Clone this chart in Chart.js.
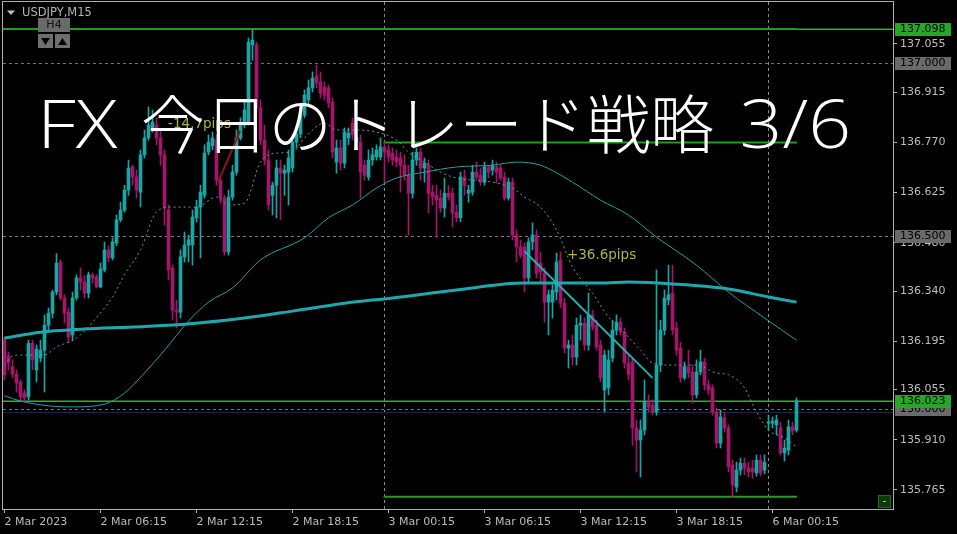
<!DOCTYPE html>
<html><head><meta charset="utf-8">
<script src="https://cdn.jsdelivr.net/npm/chart.js@4"></script>
<style>html,body{margin:0;padding:0;background:#000;}canvas{display:block;}</style>
</head><body>
<canvas id="c" width="957" height="534"></canvas>
<script>
// ---- data (USDJPY M15, bar 0 = 2 Mar 00:15) ----
const opens = [
136.198,136.152,136.121,136.100,136.077,136.045,136.034,136.189,136.112,136.146,
136.169,136.241,136.276,136.337,136.424,136.320,136.279,136.213,136.320,136.378,
136.366,136.334,136.387,136.381,136.352,136.401,136.459,136.436,136.479,136.546,
136.574,136.632,136.699,136.670,136.626,136.734,136.783,136.812,136.820,136.783,
136.734,136.574,136.407,136.285,136.279,136.439,136.473,136.473,136.552,136.583,
136.617,136.742,136.760,136.777,136.661,136.609,136.453,136.612,136.684,136.783,
136.820,136.829,137.052,137.052,136.870,136.777,136.719,136.617,136.646,136.696,
136.681,136.684,136.696,136.771,136.794,136.849,136.893,136.928,136.962,136.945,
136.930,136.928,136.887,136.713,136.754,136.710,136.783,136.826,136.771,136.771,
136.704,136.670,136.719,136.728,136.728,136.757,136.748,136.739,136.728,136.725,
136.704,136.675,136.623,136.719,136.742,136.696,136.704,136.626,136.617,136.609,
136.580,136.623,136.623,136.568,136.552,136.670,136.623,136.626,136.684,136.675,
136.655,136.699,136.690,136.699,136.696,136.670,136.609,136.655,136.502,136.468,
136.468,136.378,136.482,136.502,136.421,136.392,136.308,136.308,136.337,136.430,
136.305,136.175,136.184,136.149,136.241,136.247,136.184,136.271,136.241,136.184,
136.054,136.060,136.146,136.227,136.250,136.221,136.132,136.135,135.944,135.909,
135.938,136.019,136.010,135.990,136.126,136.227,136.314,136.334,136.233,136.175,
136.089,136.121,136.106,136.040,136.106,136.135,136.069,136.060,135.990,135.900,
135.973,135.944,135.837,135.773,135.822,135.842,135.828,135.828,135.814,135.851,
135.822,135.958,135.958,135.953,135.944,135.872,135.880,135.947,135.938];
const highs = [
136.207,136.163,136.141,136.112,136.083,136.054,136.198,136.198,136.184,136.198,
136.271,136.291,136.343,136.448,136.430,136.329,136.291,136.337,136.387,136.407,
136.384,136.395,136.392,136.387,136.421,136.482,136.471,136.494,136.560,136.597,
136.646,136.719,136.704,136.690,136.748,136.806,136.873,136.864,136.841,136.806,
136.748,136.589,136.415,136.314,136.459,136.511,136.502,136.574,136.603,136.646,
136.763,136.792,136.800,136.792,136.675,136.617,136.632,136.704,136.806,136.841,
136.893,137.072,137.097,137.060,136.893,136.820,136.748,136.655,136.719,136.719,
136.704,136.748,136.792,136.820,136.870,136.922,136.951,136.974,136.994,136.974,
136.945,136.936,136.899,136.777,136.777,136.812,136.812,136.841,136.806,136.792,
136.719,136.748,136.754,136.763,136.783,136.771,136.763,136.754,136.748,136.742,
136.734,136.704,136.742,136.754,136.754,136.725,136.719,136.646,136.646,136.632,
136.667,136.646,136.638,136.589,136.684,136.690,136.646,136.704,136.713,136.696,
136.713,136.704,136.719,136.713,136.704,136.684,136.667,136.667,136.517,136.488,
136.479,136.494,136.537,136.517,136.453,136.407,136.343,136.358,136.450,136.453,
136.320,136.198,136.213,136.262,136.271,136.262,136.334,136.285,136.256,136.198,
136.169,136.169,136.256,136.271,136.262,136.233,136.155,136.146,135.967,135.967,
136.083,136.040,136.025,136.401,136.256,136.343,136.415,136.415,136.250,136.192,
136.135,136.169,136.126,136.141,136.169,136.146,136.083,136.069,136.001,135.996,
135.990,135.953,135.851,135.845,135.857,135.857,135.845,135.851,135.866,135.866,
135.866,135.981,135.976,135.981,135.961,135.909,135.967,135.961,136.031];
const lows = [
136.083,136.112,136.089,136.048,136.025,136.019,136.025,136.112,136.077,136.135,
136.048,136.227,136.262,136.329,136.314,136.247,136.192,136.198,136.314,136.343,
136.320,136.320,136.363,136.349,136.349,136.395,136.424,136.430,136.471,136.540,
136.568,136.617,136.646,136.609,136.583,136.725,136.777,136.800,136.763,136.704,
136.531,136.372,136.256,136.233,136.262,136.424,136.424,136.415,136.540,136.436,
136.609,136.734,136.748,136.646,136.594,136.444,136.444,136.603,136.675,136.777,
136.812,136.820,137.008,136.858,136.763,136.704,136.574,136.560,136.552,136.546,
136.617,136.589,136.684,136.754,136.783,136.841,136.879,136.916,136.928,136.899,
136.893,136.870,136.725,136.681,136.690,136.696,136.763,136.777,136.748,136.609,
136.661,136.661,136.704,136.719,136.719,136.655,136.713,136.704,136.699,136.626,
136.661,136.502,136.609,136.704,136.661,136.655,136.566,136.589,136.496,136.568,
136.554,136.603,136.525,136.540,136.540,136.617,136.597,136.617,136.661,136.646,
136.646,136.667,136.675,136.652,136.661,136.603,136.603,136.488,136.424,136.436,
136.337,136.366,136.459,136.378,136.366,136.250,136.213,136.262,136.314,136.291,
136.161,136.117,136.126,136.126,136.198,136.169,136.169,136.227,136.169,136.077,
135.990,136.040,136.135,136.213,136.213,136.117,136.083,135.894,135.817,135.802,
135.924,135.990,135.981,135.981,136.106,136.213,136.300,136.213,136.155,136.077,
136.083,136.089,136.016,136.031,136.098,136.054,136.040,135.981,135.886,135.886,
135.932,135.817,135.744,135.759,135.808,135.808,135.802,135.799,135.805,135.805,
135.811,135.938,135.944,135.924,135.866,135.848,135.866,135.924,135.932];
const closes = [
136.098,136.132,136.100,136.074,136.034,136.031,136.189,136.141,136.172,136.169,
136.241,136.276,136.337,136.421,136.320,136.276,136.207,136.320,136.378,136.366,
136.334,136.387,136.378,136.352,136.404,136.459,136.436,136.482,136.546,136.574,
136.632,136.696,136.670,136.632,136.734,136.783,136.820,136.829,136.783,136.734,
136.580,136.401,136.285,136.279,136.439,136.473,136.488,136.554,136.583,136.626,
136.739,136.771,136.783,136.661,136.609,136.453,136.612,136.684,136.783,136.820,
136.864,137.060,137.066,136.870,136.777,136.719,136.589,136.646,136.696,136.681,
136.690,136.725,136.771,136.794,136.849,136.907,136.928,136.956,136.942,136.913,
136.907,136.884,136.742,136.754,136.710,136.800,136.797,136.792,136.783,136.684,
136.675,136.719,136.734,136.748,136.757,136.742,136.728,136.719,136.713,136.704,
136.675,136.623,136.719,136.742,136.696,136.710,136.623,136.612,136.603,136.580,
136.623,136.612,136.566,136.552,136.670,136.646,136.632,136.684,136.670,136.655,
136.699,136.684,136.704,136.684,136.667,136.609,136.655,136.502,136.468,136.444,
136.378,136.482,136.502,136.392,136.395,136.308,136.329,136.343,136.424,136.305,
136.175,136.184,136.149,136.241,136.247,136.184,136.271,136.236,136.178,136.089,
136.155,136.141,136.227,136.250,136.221,136.132,136.098,135.944,135.909,135.938,
136.019,136.005,135.990,136.126,136.227,136.320,136.329,136.227,136.169,136.089,
136.121,136.103,136.040,136.106,136.135,136.069,136.054,135.990,135.900,135.976,
135.944,135.831,135.779,135.822,135.842,135.828,135.817,135.817,135.851,135.814,
135.845,135.961,135.964,135.967,135.872,135.886,135.947,135.935,136.023];

// moving averages read at selected bars
const maSlowIdx = [0,9,20,32,45,60,72,85,97,113,130,149,156,168,181,191,198];
const maSlowVal = [136.204,136.221,136.230,136.236,136.244,136.262,136.282,136.305,136.320,136.343,136.363,136.363,136.366,136.360,136.346,136.323,136.308];
const maMidIdx = [0,4,11,17,25,30,35,40,46,51,57,64,75,81,87,93,98,105,113,122,128,134,142,149,156,163,173,181,190,198];
const maMidVal = [136.037,136.022,136.008,136.005,136.013,136.045,136.103,136.169,136.253,136.308,136.349,136.430,136.494,136.552,136.589,136.638,136.667,136.684,136.699,136.704,136.713,136.704,136.655,136.603,136.560,136.496,136.415,136.337,136.262,136.198];
const maFastIdx = [0,2,4,10,13,18,22,25,27,30,34,38,42,48,53,56,60,64,68,72,75,80,83,88,93,98,101,105,109,113,122,127,130,134,138,142,147,151,155,159,162,166,173,178,181,185,188,191,195,198];
const maFastVal = [136.126,136.152,136.155,136.155,136.178,136.204,136.250,136.291,136.323,136.387,136.459,136.569,136.583,136.583,136.612,136.589,136.594,136.713,136.739,136.742,136.783,136.826,136.806,136.806,136.800,136.777,136.742,136.713,136.684,136.667,136.655,136.638,136.612,136.583,136.517,136.410,136.334,136.265,136.219,136.169,136.132,136.126,136.126,136.103,136.098,136.060,135.990,135.938,135.915,135.889];

// drawn objects
const trendUpIdx = [130, 162];        const trendUpVal = [136.455, 136.089];  // +36.6pips
const trendDnIdx = [53.4, 58.9];      const trendDnVal = [136.655, 136.803];  // -14.7pips
const greenLevels = [137.098, 136.770, 135.745];
const greenFrom   = [-0.4, 94.75, 94.75];
const greenTo     = [198.1, 198.1, 198.1];
const roundLevels = [137.000, 136.500, 136.000];
const bidPrice = 136.023;
const daySepIdx = [94.75, 190.75];

const yTicks = [137.055,136.915,136.770,136.625,136.480,136.340,136.195,136.055,135.910,135.765];
const xTickIdx = [0,24,48,72,96,120,144,168,192];
const xTickLabels = ['2 Mar 2023','2 Mar 06:15','2 Mar 12:15','2 Mar 18:15','3 Mar 00:15','3 Mar 06:15','3 Mar 12:15','3 Mar 18:15','6 Mar 00:15'];

const titleParts = ['FX', '今日のトレード戦略', '3/6'];
const symbolText = 'USDJPY,M15';

// ---- config ----
const X_MIN = -0.375, X_MAX = 222.125;
const Y_MIN = 135.7096, Y_MAX = 137.1762;
const BULL = '#1ba6a6', BEAR = '#a3176a';
const AXIS_TXT = '#bcbcbc', FRAME = '#b0b0b0';
const idx = opens.map((_, i) => i);
const candleColors = idx.map(i => closes[i] >= opens[i] ? BULL : BEAR);
const pts = (xs, ys) => xs.map((x, k) => ({x: x, y: ys[k]}));

const datasets = [
  {type:'bar', data: idx.map(i => ({x:i, y:[lows[i], highs[i]]})), backgroundColor: candleColors,
   barThickness:1, grouped:false, order:6},
  {type:'bar', data: idx.map(i => ({x:i, y:[opens[i], closes[i]]})), backgroundColor: candleColors,
   barThickness:3, minBarLength:1, grouped:false, order:5},
  {type:'line', data: pts(maFastIdx, maFastVal), borderColor:'#5a9ea0', borderWidth:1, borderDash:[2,3],
   pointRadius:0, cubicInterpolationMode:'monotone', order:4},
  {type:'line', data: pts(maMidIdx, maMidVal), borderColor:'#2a9ea2', borderWidth:1,
   pointRadius:0, cubicInterpolationMode:'monotone', order:3},
  {type:'line', data: pts(maSlowIdx, maSlowVal), borderColor:'#1ea8ae', borderWidth:3,
   pointRadius:0, cubicInterpolationMode:'monotone', order:2},
  {type:'line', data: pts(trendUpIdx, trendUpVal), borderColor:'#22b0b4', borderWidth:2, pointRadius:0, order:1},
  {type:'line', data: pts(trendDnIdx, trendDnVal), borderColor:'#8a1616', borderWidth:2, pointRadius:0, order:1},
];
greenLevels.forEach((v, k) => datasets.push({type:'line', data:[{x:greenFrom[k], y:v},{x:greenTo[k], y:v}],
  borderColor:'#1f9e1f', borderWidth:2, pointRadius:0, order:7}));

function fitText(ctx, text, font, left, right, baseline) {
  ctx.font = font;
  const m = ctx.measureText(text);
  const ink = m.actualBoundingBoxLeft + m.actualBoundingBoxRight;
  ctx.save();
  ctx.translate(left, baseline);
  ctx.scale((right - left) / ink, 1);
  ctx.fillText(text, m.actualBoundingBoxLeft, 0);
  ctx.restore();
}

const overlay = {
  id:'mt4',
  beforeDatasetsDraw(chart) {
    const {ctx, chartArea:a, scales:{x, y}} = chart;
    ctx.save();
    ctx.beginPath(); ctx.rect(a.left, a.top, a.right - a.left, a.bottom - a.top); ctx.clip();
    ctx.lineWidth = 1;
    ctx.strokeStyle = '#777'; ctx.setLineDash([3,3]);
    roundLevels.forEach(v => { const py = Math.round(y.getPixelForValue(v)) + 0.5;
      ctx.beginPath(); ctx.moveTo(a.left, py); ctx.lineTo(a.right, py); ctx.stroke(); });
    ctx.strokeStyle = '#8a8a8a'; ctx.setLineDash([3,3]);
    daySepIdx.forEach(v => { const px = Math.round(x.getPixelForValue(v)) + 0.5;
      ctx.beginPath(); ctx.moveTo(px, a.top); ctx.lineTo(px, a.bottom); ctx.stroke(); });
    ctx.setLineDash([]);
    ctx.strokeStyle = '#1b2740';
    const pyAsk = Math.round(y.getPixelForValue(bidPrice - 0.034)) + 0.5;
    ctx.beginPath(); ctx.moveTo(a.left, pyAsk); ctx.lineTo(a.right, pyAsk); ctx.stroke();
    // thin green lines (bid and 137.098 level)
    ctx.fillStyle = '#26b626';
    for (const v of [bidPrice, greenLevels[0]]) {
      const q = Math.round(y.getPixelForValue(v));
      ctx.fillRect(a.left, q - 0.5, a.right - a.left, 1.5);
    }
    ctx.restore();
  },
  afterDatasetsDraw(chart) {
    const {ctx, scales:{x, y}} = chart;
    ctx.save();
    ctx.font = '13.5px "DejaVu Sans"'; ctx.fillStyle = '#b4b046'; ctx.textBaseline = 'alphabetic';
    ctx.fillText('+36.6pips', x.getPixelForValue(140.6), y.getPixelForValue(136.433));
    ctx.fillText('-14.7pips', x.getPixelForValue(40.9), y.getPixelForValue(136.812));
    ctx.restore();
  },
  afterDraw(chart) {
    const {ctx, chartArea:a, scales:{y}} = chart;
    ctx.save();
    ctx.strokeStyle = FRAME; ctx.lineWidth = 1;
    ctx.strokeRect(a.left - 0.5, a.top - 0.5, a.right - a.left + 1, a.bottom - a.top + 1);
    ctx.font = '11px "DejaVu Sans"'; ctx.textBaseline = 'middle'; ctx.textAlign = 'left';
    const box = (v, bg) => { const py = Math.round(y.getPixelForValue(v));
      ctx.fillStyle = bg; ctx.fillRect(a.right + 2, py - 6, 56, 13);
      ctx.fillStyle = '#000'; ctx.fillText(v.toFixed(3), a.right + 7, py + 0.5); };
    roundLevels.forEach(v => box(v, '#6a6a6a'));
    box(greenLevels[0], '#25a825');
    box(bidPrice, '#25a825');
    // title
    ctx.fillStyle = '#ffffff'; ctx.textBaseline = 'alphabetic';
    fitText(ctx, titleParts[0], '300 66px "Open Sans"', 44, 118, 148);
    fitText(ctx, titleParts[1], '300 64px "Noto Sans CJK JP"', 143, 713, 148);
    fitText(ctx, titleParts[2], '300 66px "Open Sans"', 743, 848, 148);
    // symbol header
    ctx.fillStyle = '#c0c0c0';
    ctx.beginPath(); ctx.moveTo(7, 10.5); ctx.lineTo(15, 10.5); ctx.lineTo(11, 15); ctx.closePath(); ctx.fill();
    ctx.fillStyle = '#b4b4b4'; ctx.font = '11.5px "DejaVu Sans"'; ctx.textBaseline = 'middle';
    ctx.fillText(symbolText, 22, 13);
    ctx.font = '11px "DejaVu Sans"';
    ctx.fillStyle = '#6a6a6a'; ctx.fillRect(38, 18, 32, 14);
    ctx.fillStyle = '#111'; ctx.textAlign = 'center'; ctx.fillText('H4', 54, 25);
    ctx.fillStyle = '#6e6e6e'; ctx.fillRect(38, 34, 15, 14); ctx.fillRect(55, 34, 15, 14);
    ctx.fillStyle = '#000';
    ctx.beginPath(); ctx.moveTo(41, 38); ctx.lineTo(50, 38); ctx.lineTo(45.5, 45); ctx.closePath(); ctx.fill();
    ctx.beginPath(); ctx.moveTo(58, 45); ctx.lineTo(67, 45); ctx.lineTo(62.5, 38); ctx.closePath(); ctx.fill();
    ctx.fillStyle = '#0b3a0b'; ctx.fillRect(878, 495, 13, 13);
    ctx.strokeStyle = '#1f6a1f'; ctx.strokeRect(878.5, 495.5, 12, 12);
    ctx.fillStyle = '#cfcfcf'; ctx.fillText('-', 884.5, 501.5);
    ctx.restore();
  }
};

const noPad = (s) => { s.paddingTop = 0; s.paddingBottom = 0; s.paddingLeft = 0; s.paddingRight = 0; };

new Chart(document.getElementById('c'), {
  type:'bar',
  data:{datasets},
  options:{
    responsive:false, animation:false, devicePixelRatio:1,
    layout:{padding:{left:3, top:2, right:0, bottom:0}},
    plugins:{legend:{display:false}, tooltip:{enabled:false}},
    scales:{
      x:{type:'linear', min:X_MIN, max:X_MAX, offset:false, position:'bottom',
        grid:{offset:false, drawOnChartArea:false, drawTicks:true, tickLength:4, color:FRAME},
        border:{display:false},
        ticks:{autoSkip:false, maxRotation:0, minRotation:0, align:'start', padding:3, color:AXIS_TXT,
          font:{family:'DejaVu Sans', size:11},
          callback:(v) => { const k = xTickIdx.indexOf(v); return k >= 0 ? xTickLabels[k] : ''; }},
        afterBuildTicks:(s) => { s.ticks = xTickIdx.map(v => ({value:v})); },
        afterFit:(s) => { s.height = 25; noPad(s); }},
      y:{type:'linear', min:Y_MIN, max:Y_MAX, position:'right',
        grid:{drawOnChartArea:false, drawTicks:true, tickLength:4, color:FRAME},
        border:{display:false},
        ticks:{padding:3, color:AXIS_TXT, font:{family:'DejaVu Sans', size:11},
          callback:(v) => Number(v).toFixed(3)},
        afterBuildTicks:(s) => { s.ticks = yTicks.map(v => ({value:v})); },
        afterFit:(s) => { s.width = 64; noPad(s); }}
    }
  },
  plugins:[overlay]
});
</script>
</body></html>
